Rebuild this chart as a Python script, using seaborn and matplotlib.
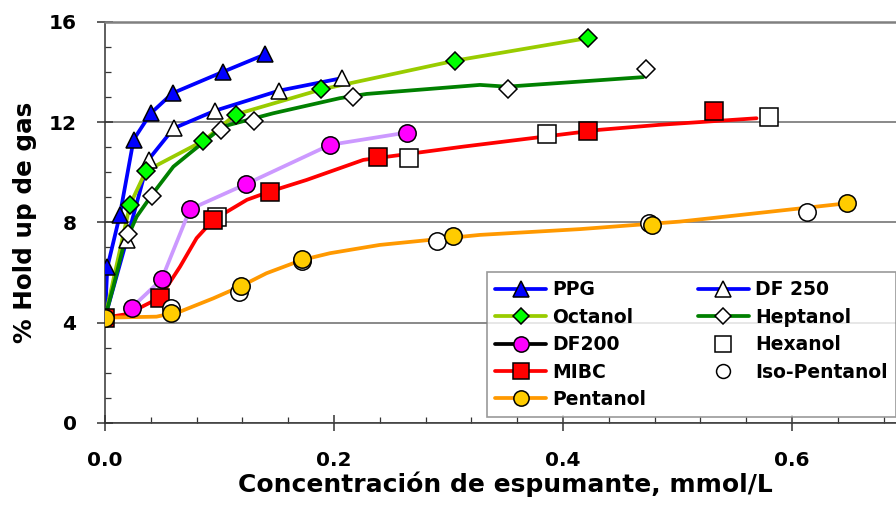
import matplotlib
matplotlib.use("Agg")
import matplotlib.pyplot as plt
from matplotlib.lines import Line2D
from matplotlib.ticker import MultipleLocator, FormatStrFormatter
import seaborn as sns
import pandas as pd

# ---------------- data ----------------
start_x = [0.0]
start_y = [4.2]

ppg_x = [0.002, 0.013, 0.025, 0.040, 0.059, 0.103, 0.140]
ppg_y = [6.2, 8.3, 11.3, 12.35, 13.15, 14.0, 14.7]

df250_x = [0.019, 0.038, 0.060, 0.096, 0.152, 0.207]
df250_y = [7.3, 10.5, 11.75, 12.45, 13.25, 13.75]

octanol_x = [0.0218, 0.0358, 0.0859, 0.114, 0.189, 0.306, 0.422]
octanol_y = [8.7, 10.05, 11.25, 12.3, 13.3, 14.45, 15.35]

heptanol_x = [0.0203, 0.0408, 0.101, 0.130, 0.217, 0.352, 0.4725]
heptanol_y = [7.55, 9.05, 11.7, 12.05, 13.0, 13.3, 14.1]
heptanol_line_x = [0.0, 0.0073, 0.016, 0.0277, 0.042, 0.0597, 0.0742, 0.103, 0.147,
                   0.205, 0.2285, 0.3275, 0.351, 0.470]
heptanol_line_y = [4.2, 5.44, 7.03, 8.23, 9.16, 10.22, 10.76, 11.82, 12.35,
                   12.95, 13.12, 13.48, 13.41, 13.79]

df200_x = [0.0233, 0.0495, 0.0742, 0.1229, 0.1965, 0.2635]
df200_y = [4.6, 5.73, 8.52, 9.52, 11.09, 11.58]

mibc_x = [0.0, 0.048, 0.0946, 0.144, 0.2387, 0.422, 0.532]
mibc_y = [4.2, 5.0, 8.1, 9.23, 10.6, 11.65, 12.45]
mibc_line_x = [0.0, 0.02, 0.048, 0.0655, 0.080, 0.0946, 0.124, 0.144, 0.176,
               0.2256, 0.313, 0.432, 0.4847, 0.569]
mibc_line_y = [4.2, 4.35, 5.0, 6.23, 7.37, 8.1, 8.9, 9.23, 9.69,
               10.49, 11.02, 11.69, 11.89, 12.15]

hexanol_x = [0.0976, 0.2655, 0.3858, 0.580]
hexanol_y = [8.2, 10.58, 11.52, 12.22]

pentanol_x = [0.0, 0.0574, 0.1185, 0.1723, 0.304, 0.478, 0.648]
pentanol_y = [4.2, 4.38, 5.46, 6.54, 7.46, 7.90, 8.76]
pentanol_line_x = [0.0, 0.045, 0.0655, 0.0946, 0.118, 0.141, 0.172, 0.1965,
                   0.240, 0.3275, 0.4148, 0.502, 0.648]
pentanol_line_y = [4.2, 4.24, 4.44, 4.97, 5.44, 5.97, 6.50, 6.77,
                   7.10, 7.50, 7.73, 8.03, 8.76]

isopentanol_x = [0.0574, 0.1173, 0.1723, 0.2902, 0.475, 0.613]
isopentanol_y = [4.6, 5.24, 6.45, 7.26, 7.97, 8.40]

legend_labels = ["PPG", "Octanol", "DF200", "MIBC", "Pentanol",
                 "DF 250", "Heptanol", "Hexanol", "Iso-Pentanol"]

x_label = "Concentración de espumante, mmol/L"
y_label = "% Hold up de gas"

# ---------------- style ----------------
sns.set_style("ticks")
plt.rcParams["font.family"] = ["DejaVu Sans"]
plt.rcParams["font.weight"] = "bold"
plt.rcParams["axes.labelweight"] = "bold"
for k in ("text.color", "axes.labelcolor", "xtick.labelcolor", "ytick.labelcolor"):
    plt.rcParams[k] = "black"

fig = plt.figure(figsize=(8.96, 5.12), dpi=100)
ax = fig.add_axes([105 / 896, 89 / 512, 801.5 / 896, 401.3 / 512])

LW = 2.7
MEW = 1.1

# lines
line_specs = [
    (start_x + ppg_x, start_y + ppg_y, "#0000FF"),
    (start_x + df250_x, start_y + df250_y, "#0000FF"),
    (start_x + octanol_x, start_y + octanol_y, "#99CC00"),
    (heptanol_line_x, heptanol_line_y, "#008000"),
    (df200_x, df200_y, "#CC99FF"),
    (mibc_line_x, mibc_line_y, "#FF0000"),
    (pentanol_line_x, pentanol_line_y, "#FF9900"),
]
for xs, ys, c in line_specs:
    df = pd.DataFrame({"x": xs, "y": ys})
    sns.lineplot(data=df, x="x", y="y", ax=ax, color=c, linewidth=LW,
                 sort=False, estimator=None, zorder=2)

# markers
marker_specs = [
    (ppg_x, ppg_y, "^", "#0000FF", 12),
    (df250_x, df250_y, "^", "white", 12),
    (octanol_x, octanol_y, "D", "#00FF00", 9),
    (heptanol_x, heptanol_y, "D", "white", 9),
    (df200_x, df200_y, "o", "#FF00FF", 12.5),
    (hexanol_x, hexanol_y, "s", "white", 13),
    (mibc_x, mibc_y, "s", "#FF0000", 13),
    (isopentanol_x, isopentanol_y, "o", "white", 12.5),
    (pentanol_x, pentanol_y, "o", "#FFCC00", 12.5),
]
for xs, ys, m, fc, ms in marker_specs:
    df = pd.DataFrame({"x": xs, "y": ys})
    sns.lineplot(data=df, x="x", y="y", ax=ax, linestyle="", marker=m,
                 markersize=ms, markerfacecolor=fc, markeredgecolor="black",
                 markeredgewidth=MEW, sort=False, estimator=None, zorder=3)

# axes
ax.set_xlim(0, 0.7)
ax.set_ylim(0, 16)
ax.xaxis.set_major_locator(MultipleLocator(0.2))
ax.xaxis.set_minor_locator(MultipleLocator(0.04))
ax.xaxis.set_major_formatter(FormatStrFormatter("%.1f"))
ax.yaxis.set_major_locator(MultipleLocator(4))
ax.yaxis.set_minor_locator(MultipleLocator(1))

ax.tick_params(which="major", direction="inout", length=11, width=1.1,
               color="#333333", labelsize=14.5, labelcolor="black")
ax.tick_params(axis="y", which="major", pad=15)
ax.tick_params(axis="x", which="major", pad=15)
ax.tick_params(which="minor", direction="in", length=4, width=0.9, color="#333333")

ax.yaxis.grid(True, which="major", color="#808080", linewidth=1.3)
ax.set_axisbelow(True)
ax.spines["right"].set_visible(False)
ax.spines["top"].set_color("#808080")
ax.spines["top"].set_linewidth(1.8)
for s in ("left", "bottom"):
    ax.spines[s].set_color("#333333")
    ax.spines[s].set_linewidth(1.1)

ax.set_xlabel(x_label, fontsize=18, fontweight="bold", labelpad=1, color="black")
ax.set_ylabel(y_label, fontsize=17.7, fontweight="bold", labelpad=8, color="black")

# legend
handles = [
    Line2D([], [], color="#0000FF", lw=LW, marker="^", ms=11, mfc="#0000FF", mec="black", mew=MEW),
    Line2D([], [], color="#99CC00", lw=LW, marker="D", ms=8, mfc="#00FF00", mec="black", mew=MEW),
    Line2D([], [], color="black", lw=LW, marker="o", ms=11, mfc="#FF00FF", mec="black", mew=MEW),
    Line2D([], [], color="#FF0000", lw=LW, marker="s", ms=11, mfc="#FF0000", mec="black", mew=MEW),
    Line2D([], [], color="#FF9900", lw=LW, marker="o", ms=11, mfc="#FFCC00", mec="black", mew=MEW),
    Line2D([], [], color="#0000FF", lw=LW, marker="^", ms=11, mfc="white", mec="black", mew=MEW),
    Line2D([], [], color="#008000", lw=LW, marker="D", ms=8, mfc="white", mec="black", mew=MEW),
    Line2D([], [], color="none", lw=0, marker="s", ms=11, mfc="white", mec="black", mew=MEW),
    Line2D([], [], color="none", lw=0, marker="o", ms=10, mfc="white", mec="black", mew=MEW),
]
leg = ax.legend(handles, legend_labels, ncol=2, loc="upper left",
                bbox_to_anchor=(0.4766, 0.3766), borderaxespad=0,
                frameon=True, fancybox=False, edgecolor="#808080",
                prop={"weight": "bold", "size": 13.5}, handlelength=2.7,
                handletextpad=0.35, labelspacing=0.45, columnspacing=2.75,
                borderpad=0.45)
leg.get_frame().set_linewidth(1.2)
leg.set_zorder(5)
for t in leg.get_texts():
    t.set_color("black")

fig.savefig("out.png", dpi=100)
